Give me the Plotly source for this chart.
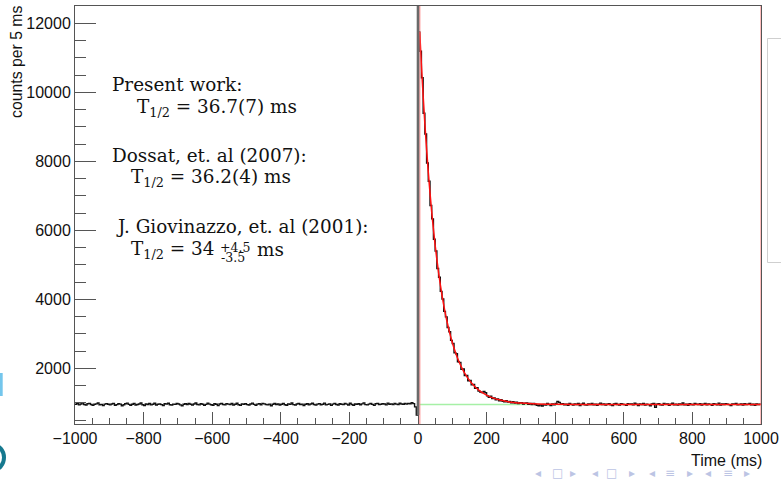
import numpy as np
import plotly.graph_objects as go

# ---- data -----------------------------------------------------------------
bin_width = 5  # ms
time_range = [-1000, 1000]

# counts per 5 ms bin, t in [-1000, 0)
counts_before = [
    958, 986, 940, 964, 996, 948, 934, 974, 982, 952,
    924, 956, 968, 992, 942, 954, 918, 962, 976, 956,
    938, 966, 984, 930, 946, 974, 960, 916, 944, 972,
    990, 954, 928, 958, 980, 936, 950, 966, 994, 942,
    920, 964, 952, 978, 940, 956, 986, 934, 958, 968,
    946, 922, 974, 960, 988, 944, 932, 962, 954, 980,
    964, 938, 912, 956, 970, 948, 982, 958, 936, 966,
    992, 950, 940, 976, 958, 928, 954, 986, 962, 944,
    930, 972, 956, 918, 966, 984, 948, 938, 974, 960,
    952, 978, 934, 956, 988, 942, 924, 968, 958, 976,
    946, 936, 964, 990, 954, 926, 960, 972, 944, 982,
    968, 952, 938, 962, 916, 958, 980, 950, 966, 936,
    958, 984, 942, 930, 968, 954, 992, 946, 934, 964,
    978, 948, 960, 922, 956, 974, 940, 966, 988, 952,
    932, 962, 976, 944, 958, 990, 938, 954, 968, 924,
    960, 982, 950, 936, 972, 956, 946, 978, 962, 934,
    986, 952, 928, 964, 956, 974, 942, 968, 996, 946,
    938, 960, 978, 954, 926, 970, 984, 948, 958, 976,
    964, 940, 990, 956, 968, 946, 980, 962, 952, 986,
    966, 958, 979, 962, 984, 970, 1002, 975, 880, 648,
]

# counts per 5 ms bin, t in [0, 1000)
counts_after = [
    11750, 11190, 10420, 9390, 8790, 7950, 7420, 6720, 6330, 5740,
    5400, 4890, 4640, 4230, 4010, 3650, 3490, 3180, 3060, 2810,
    2720, 2450, 2420, 2190, 2170, 1970, 1980, 1790, 1790, 1640,
    1650, 1520, 1530, 1420, 1440, 1340, 1310, 1300, 1330, 1290,
    1200, 1160, 1190, 1120, 1140, 1090, 1110, 1060, 1090, 1040,
    1030, 1060, 1020, 1040, 1000, 1030, 990, 1015, 975, 1000,
    1000, 962, 985, 995, 958, 978, 950, 982, 948, 928,
    916, 940, 908, 948, 934, 982, 952, 920, 966, 944,
    978, 1040, 1012, 956, 974, 940, 962, 930, 984, 954,
    936, 966, 948, 978, 922, 958, 986, 944, 934, 968,
    952, 980, 938, 962, 926, 956, 990, 948, 964, 932,
    960, 974, 942, 918, 966, 984, 950, 936, 972, 958,
    946, 930, 976, 954, 964, 940, 988, 956, 922, 968,
    952, 978, 934, 960, 946, 916, 964, 982, 866, 958,
    970, 944, 936, 980, 954, 964, 928, 958, 986, 942,
    956, 934, 968, 948, 992, 940, 958, 924, 974, 952,
    938, 984, 960, 946, 970, 932, 956, 978, 944, 966,
    954, 928, 976, 958, 942, 988, 936, 964, 950, 974,
    960, 946, 922, 968, 956, 980, 938, 952, 966, 934,
    970, 948, 958, 984, 940, 956, 930, 966, 952, 962,
]

# fitted decay curve (exponential + constant background)
fit_time = [5, 10, 15, 20, 25, 30, 35, 40, 45, 50, 55, 60, 65, 70, 75, 80,
            85, 90, 95, 100, 110, 120, 130, 140, 150, 160, 170, 180, 190,
            200, 220, 240, 260, 280, 300, 350, 400, 500, 600, 700, 800, 900,
            1000]
fit_counts = [11750, 10777, 9892, 9086, 8353, 7686, 7079, 6527, 6024, 5567,
              5151, 4773, 4428, 4115, 3830, 3570, 3334, 3119, 2924, 2746,
              2437, 2181, 1969, 1794, 1649, 1528, 1429, 1347, 1278, 1222,
              1136, 1078, 1037, 1010, 991, 966, 956, 951, 950, 950, 950,
              950, 950]

fit_range = [5, 1000]
background_level = 950
count_range = [385, 12500]

# ---- histogram as a step line -------------------------------------------
counts = np.array(counts_before + counts_after, dtype=float)
edges = np.arange(time_range[0], time_range[1] + bin_width, bin_width)
step_x = edges
step_y = np.append(counts, counts[-1])

fig = go.Figure()

# constant background component of the fit
fig.add_trace(go.Scatter(
    x=fit_range, y=[background_level, background_level], mode="lines",
    line=dict(color="#a6f0a6", width=1.6), hoverinfo="skip", showlegend=False))

fig.add_trace(go.Scatter(
    x=step_x, y=step_y, mode="lines", line_shape="hv",
    line=dict(color="#111111", width=1.4), showlegend=False))

fig.add_trace(go.Scatter(
    x=fit_time, y=fit_counts, mode="lines", line_shape="spline",
    line=dict(color="#ff1010", width=1.5), showlegend=False))

# fit-range markers and the t = 0 line
for t in fit_range:
    fig.add_shape(type="line", xref="x", yref="paper", x0=t, x1=t, y0=0, y1=1,
                  line=dict(color="rgba(255,120,120,0.6)", width=1.6))
fig.add_shape(type="line", xref="x", yref="y", x0=0, x1=0,
              y0=counts_before[-1], y1=count_range[1],
              line=dict(color="#6a6a6a", width=2.6))

sans = "Liberation Sans, Arial, sans-serif"
axis_font = dict(family=sans, size=16, color="#111111")
serif = "DejaVu Serif, serif"

# plot-area geometry in page pixels
PL, PR, PT, PB = 75, 761, 6, 424
W, H = 781, 481


def px_x(px):
    return (px - PL) / (PR - PL)


def px_y(py):
    return (PB - py) / (PB - PT)


fig.update_layout(
    width=W, height=H, autosize=False,
    margin=dict(l=PL, r=W - PR, t=PT, b=H - PB, pad=0),
    paper_bgcolor="white", plot_bgcolor="white", showlegend=False,
    xaxis=dict(range=time_range, tick0=-1000, dtick=200, ticks="inside",
               ticklen=12, tickcolor="#555555", tickwidth=1,
               minor=dict(dtick=50, ticks="inside", ticklen=6,
                          tickcolor="#555555", tickwidth=1),
               showline=True, linecolor="#555555", linewidth=1, mirror=True,
               showgrid=False, zeroline=False, tickfont=axis_font,
               automargin=False),
    yaxis=dict(range=count_range, tick0=0, dtick=2000, tickformat="d",
               ticks="inside",
               ticklen=21, tickcolor="#555555", tickwidth=1,
               minor=dict(dtick=500, ticks="inside", ticklen=11,
                          tickcolor="#555555", tickwidth=1),
               showline=True, linecolor="#555555", linewidth=1, mirror=True,
               showgrid=False, zeroline=False, tickfont=axis_font,
               automargin=False),
)

# axis titles
fig.add_annotation(text="counts per 5 ms", xref="paper", yref="paper",
                   x=px_x(16), y=px_y(4), xanchor="center", yanchor="top",
                   textangle=-90, showarrow=False,
                   font=dict(family=sans, size=15.8, color="#111111"))
fig.add_annotation(text="Time (ms)", xref="paper", yref="paper",
                   x=px_x(764), y=px_y(460), xanchor="right", yanchor="middle",
                   showarrow=False,
                   font=dict(family=sans, size=16, color="#111111"))

# half-life comparison text
labels = [
    ("Present work:", -898, 10212),
    ("T<sub>1/2</sub> = 36.7(7) ms", -825, 9545),
    ("Dossat, et. al (2007):", -898, 8168),
    ("T<sub>1/2</sub> = 36.2(4) ms", -844, 7501),
    ("J. Giovinazzo, et. al (2001):", -887, 6096),
    ("T<sub>1/2</sub> = 34", -844, 5429),
    ("ms", -474, 5429),
]
for text, tx, ty in labels:
    fig.add_annotation(text=text, x=tx, y=ty, xanchor="left",
                       yanchor="middle", showarrow=False,
                       font=dict(family=serif, size=18.4, color="#111111"))
fig.add_annotation(text="+4.5", x=-583, y=5490, xanchor="left",
                   yanchor="middle", showarrow=False,
                   font=dict(family=serif, size=12.5, color="#111111"))
fig.add_annotation(text="-3.5", x=-580, y=5200, xanchor="left",
                   yanchor="middle", showarrow=False,
                   font=dict(family=serif, size=12.5, color="#111111"))

# partially visible box at the right edge
fig.add_shape(type="rect", xref="paper", yref="paper",
              x0=px_x(767.5), x1=px_x(800),
              y0=px_y(262.5), y1=px_y(38.5),
              line=dict(color="#cfcfcf", width=1), fillcolor="white",
              layer="below")

# slide decorations at the page edges
fig.add_shape(type="rect", xref="paper", yref="paper",
              x0=px_x(-2), x1=px_x(2.7), y0=px_y(396), y1=px_y(373),
              line=dict(width=0), fillcolor="#74c6ec")
fig.add_shape(type="circle", xref="paper", yref="paper",
              x0=px_x(-18), x1=px_x(4), y0=px_y(470), y1=px_y(445),
              line=dict(color="#16798f", width=4))

nav_glyphs = ["◂", "□", "▸", "◂", "□", "▸", "◂", "≡", "▸", "◂", "≡", "▸"]
nav_px = [538, 557, 573, 595, 611, 632, 652, 670, 690, 708, 728, 747]
for g, px in zip(nav_glyphs, nav_px):
    fig.add_annotation(text=g, xref="paper", yref="paper",
                       x=px_x(px), y=px_y(473),
                       xanchor="center", yanchor="middle", showarrow=False,
                       font=dict(family="DejaVu Sans", size=12,
                                 color="#bcc4e4"))

fig.write_html("out.html")
